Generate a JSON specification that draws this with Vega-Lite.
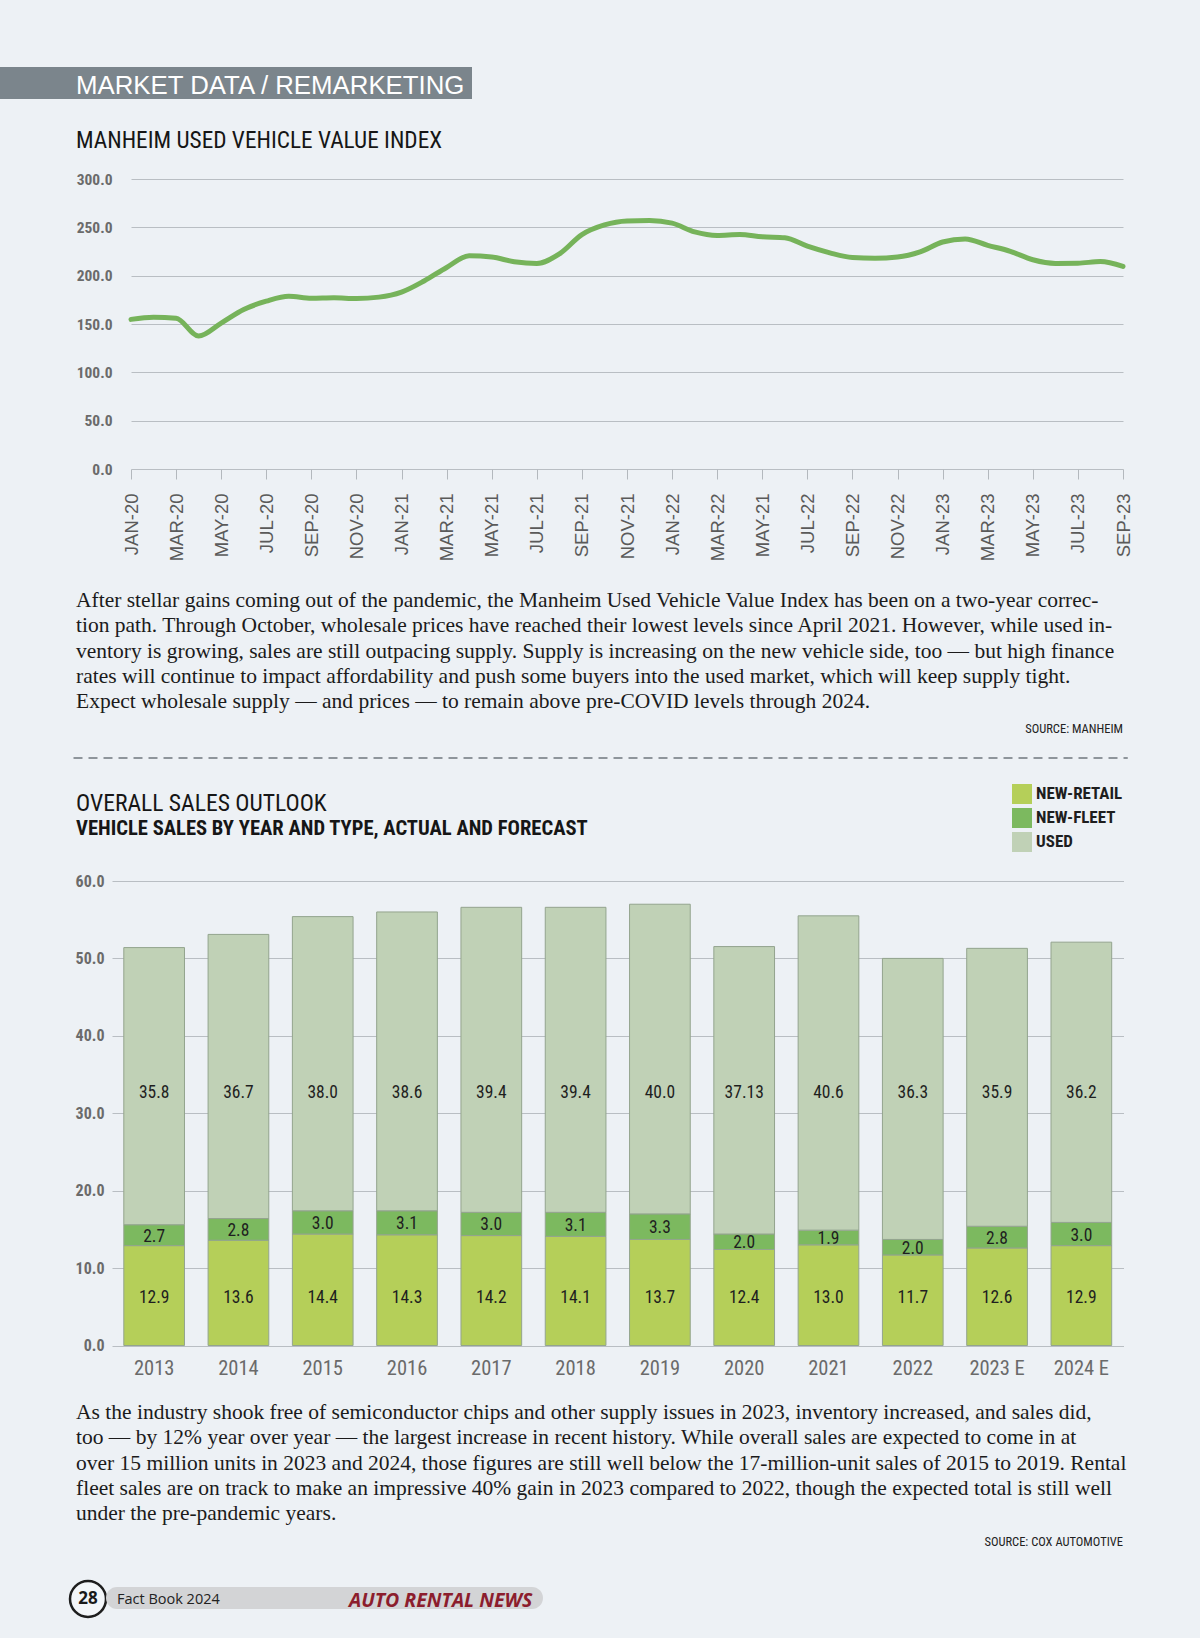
{
  "$schema": "https://vega.github.io/schema/vega-lite/v6.json",
  "background": "#edf1f5",
  "padding": {"left": 0, "top": 67, "right": 72, "bottom": 22},
  "spacing": 0,
  "bounds": "flush",
  "config": {"view": {"stroke": null}},
  "vconcat": [
    {
      "width": 472, "height": 32,
      "view": {"fill": "#7b858c", "stroke": null},
      "data": {"values": []}, "mark": "point",
      "title": {"text": "MARKET DATA / REMARKETING", "orient": "bottom", "anchor": "start", "frame": "group", "dx": 76, "offset": -25, "baseline": "top", "font": "Liberation Sans", "fontSize": 25.8, "fontWeight": "normal", "color": "#ffffff", "limit": 2000}
    },
    {
      "width": 1123, "height": 80,
      "data": {"values": []}, "mark": "point",
      "title": {"text": "MANHEIM USED VEHICLE VALUE INDEX", "orient": "bottom", "anchor": "start", "frame": "group", "dx": 76, "offset": -49, "baseline": "top", "font": "Liberation Sans Narrow, Roboto Condensed, DejaVu Sans Condensed, Liberation Sans", "fontSize": 23.3, "fontWeight": "normal", "color": "#161616", "limit": 2000}
    },
    {
      "spacing": 0, "bounds": "flush",
      "hconcat": [
        {"width": 131, "height": 290, "data": {"values": []}, "mark": "point"},
        {
          "width": 992, "height": 290,
          "data": {"values": [
            {"month": "JAN-20", "index": 154.8}, {"month": "FEB-20", "index": 157.0}, {"month": "MAR-20", "index": 156.0},
            {"month": "APR-20", "index": 137.6}, {"month": "MAY-20", "index": 151.0}, {"month": "JUN-20", "index": 165.0},
            {"month": "JUL-20", "index": 173.6}, {"month": "AUG-20", "index": 178.7}, {"month": "SEP-20", "index": 176.6},
            {"month": "OCT-20", "index": 177.1}, {"month": "NOV-20", "index": 176.4}, {"month": "DEC-20", "index": 177.8},
            {"month": "JAN-21", "index": 183.0}, {"month": "FEB-21", "index": 194.5}, {"month": "MAR-21", "index": 208.5},
            {"month": "APR-21", "index": 220.5}, {"month": "MAY-21", "index": 219.2}, {"month": "JUN-21", "index": 214.5},
            {"month": "JUL-21", "index": 212.7}, {"month": "AUG-21", "index": 222.5}, {"month": "SEP-21", "index": 242.5},
            {"month": "OCT-21", "index": 252.5}, {"month": "NOV-21", "index": 256.6}, {"month": "DEC-21", "index": 257.0},
            {"month": "JAN-22", "index": 254.3}, {"month": "FEB-22", "index": 245.3}, {"month": "MAR-22", "index": 241.6},
            {"month": "APR-22", "index": 242.6}, {"month": "MAY-22", "index": 240.2}, {"month": "JUN-22", "index": 239.2},
            {"month": "JUL-22", "index": 230.5}, {"month": "AUG-22", "index": 223.6}, {"month": "SEP-22", "index": 218.8},
            {"month": "OCT-22", "index": 218.0}, {"month": "NOV-22", "index": 219.3}, {"month": "DEC-22", "index": 224.7},
            {"month": "JAN-23", "index": 234.8}, {"month": "FEB-23", "index": 238.0}, {"month": "MAR-23", "index": 231.4},
            {"month": "APR-23", "index": 225.2}, {"month": "MAY-23", "index": 216.5}, {"month": "JUN-23", "index": 212.7},
            {"month": "JUL-23", "index": 212.9}, {"month": "AUG-23", "index": 214.6}, {"month": "SEP-23", "index": 209.5}
          ]},
          "mark": {"type": "line", "color": "#76b35a", "strokeWidth": 5, "interpolate": "monotone", "strokeCap": "round", "strokeJoin": "round"},
          "encoding": {
            "x": {
              "field": "month", "type": "ordinal", "sort": null,
              "scale": {"type": "point", "padding": 0},
              "axis": {
                "title": null,
                "values": ["JAN-20", "MAR-20", "MAY-20", "JUL-20", "SEP-20", "NOV-20", "JAN-21", "MAR-21", "MAY-21", "JUL-21", "SEP-21", "NOV-21", "JAN-22", "MAR-22", "MAY-22", "JUL-22", "SEP-22", "NOV-22", "JAN-23", "MAR-23", "MAY-23", "JUL-23", "SEP-23"],
                "labelExpr": "datum.value == 'MAY-22' ? 'MAY-21' : datum.value",
                "labelAngle": -90, "labelFont": "Liberation Sans", "labelFontSize": 18.5, "labelColor": "#5a5a5a",
                "tickSize": 10, "tickColor": "#b3b8bd", "tickWidth": 1, "labelPadding": 14,
                "domain": false, "grid": false
              }
            },
            "y": {
              "field": "index", "type": "quantitative",
              "scale": {"domain": [0, 300], "nice": false},
              "axis": {
                "title": null, "values": [0, 50, 100, 150, 200, 250, 300], "format": ".1f",
                "grid": true, "gridColor": "#b9bec3", "gridWidth": 1, "domain": false, "ticks": false, "tickSize": 0,
                "labelPadding": 19, "labelFont": "Liberation Sans Narrow, Roboto Condensed, DejaVu Sans Condensed, Liberation Sans",
                "labelFontSize": 15.5, "labelFontWeight": "bold", "labelColor": "#6b6b6b"
              }
            }
          }
        }
      ]
    },
    {"width": 10, "height": 290, "data": {"values": []}, "mark": "point"},
    {
      "width": 1123, "height": 119,
      "data": {"values": []}, "mark": "point",
      "title": {
        "text": [
          "After stellar gains coming out of the pandemic, the Manheim Used Vehicle Value Index has been on a two-year correc-",
          "tion path. Through October, wholesale prices have reached their lowest levels since April 2021. However, while used in-",
          "ventory is growing, sales are still outpacing supply. Supply is increasing on the new vehicle side, too — but high finance",
          "rates will continue to impact affordability and push some buyers into the used market, which will keep supply tight.",
          "Expect wholesale supply — and prices — to remain above pre-COVID levels through 2024."
        ],
        "orient": "bottom", "anchor": "start", "frame": "group", "dx": 76, "offset": 2, "baseline": "top",
        "font": "Liberation Serif", "fontSize": 21.5, "fontWeight": "normal", "color": "#1b1b1b", "lineHeight": 25.3, "limit": 2000
      }
    },
    {
      "width": 1123, "height": 134,
      "data": {"values": []}, "mark": "point",
      "title": {"text": "SOURCE: MANHEIM", "orient": "bottom", "anchor": "end", "frame": "group", "offset": 1, "baseline": "top", "font": "Liberation Sans Narrow, Roboto Condensed, DejaVu Sans Condensed, Liberation Sans", "fontSize": 12.5, "fontWeight": "normal", "color": "#222222", "limit": 2000}
    },
    {"width": 10, "height": 35, "data": {"values": []}, "mark": "point"},
    {
      "spacing": 0, "bounds": "flush",
      "hconcat": [
        {"width": 73, "height": 1, "data": {"values": []}, "mark": "point"},
        {"width": 1054, "height": 1, "view": {"stroke": "#8e959b", "strokeWidth": 1, "strokeDash": [9, 6], "fill": null}, "data": {"values": []}, "mark": "point"}
      ]
    },
    {
      "width": 1123, "height": 123.5,
      "data": {"values": []}, "mark": "point",
      "title": {
        "text": "OVERALL SALES OUTLOOK",
        "subtitle": "VEHICLE SALES BY YEAR AND TYPE, ACTUAL AND FORECAST",
        "orient": "bottom", "anchor": "start", "frame": "group", "dx": 76, "offset": -89, "baseline": "top",
        "font": "Liberation Sans Narrow, Roboto Condensed, DejaVu Sans Condensed, Liberation Sans", "fontSize": 23.6, "fontWeight": "normal", "color": "#161616",
        "subtitleFont": "Liberation Sans Narrow, Roboto Condensed, DejaVu Sans Condensed, Liberation Sans", "subtitleFontSize": 20.6, "subtitleFontWeight": "bold", "subtitleColor": "#161616", "subtitlePadding": 4,
        "limit": 2000
      }
    },
    {
      "spacing": 0, "bounds": "flush",
      "hconcat": [
        {"width": 112, "height": 464.5, "data": {"values": []}, "mark": "point"},
        {
          "width": 1011.5, "height": 464.5,
          "data": {"values": [
            {"year": "2013", "type": "NEW-RETAIL", "value": 12.9, "label": "12.9"},
            {"year": "2013", "type": "NEW-FLEET", "value": 2.7, "label": "2.7"},
            {"year": "2013", "type": "USED", "value": 35.8, "label": "35.8"},
            {"year": "2014", "type": "NEW-RETAIL", "value": 13.6, "label": "13.6"},
            {"year": "2014", "type": "NEW-FLEET", "value": 2.8, "label": "2.8"},
            {"year": "2014", "type": "USED", "value": 36.7, "label": "36.7"},
            {"year": "2015", "type": "NEW-RETAIL", "value": 14.4, "label": "14.4"},
            {"year": "2015", "type": "NEW-FLEET", "value": 3.0, "label": "3.0"},
            {"year": "2015", "type": "USED", "value": 38.0, "label": "38.0"},
            {"year": "2016", "type": "NEW-RETAIL", "value": 14.3, "label": "14.3"},
            {"year": "2016", "type": "NEW-FLEET", "value": 3.1, "label": "3.1"},
            {"year": "2016", "type": "USED", "value": 38.6, "label": "38.6"},
            {"year": "2017", "type": "NEW-RETAIL", "value": 14.2, "label": "14.2"},
            {"year": "2017", "type": "NEW-FLEET", "value": 3.0, "label": "3.0"},
            {"year": "2017", "type": "USED", "value": 39.4, "label": "39.4"},
            {"year": "2018", "type": "NEW-RETAIL", "value": 14.1, "label": "14.1"},
            {"year": "2018", "type": "NEW-FLEET", "value": 3.1, "label": "3.1"},
            {"year": "2018", "type": "USED", "value": 39.4, "label": "39.4"},
            {"year": "2019", "type": "NEW-RETAIL", "value": 13.7, "label": "13.7"},
            {"year": "2019", "type": "NEW-FLEET", "value": 3.3, "label": "3.3"},
            {"year": "2019", "type": "USED", "value": 40.0, "label": "40.0"},
            {"year": "2020", "type": "NEW-RETAIL", "value": 12.4, "label": "12.4"},
            {"year": "2020", "type": "NEW-FLEET", "value": 2.0, "label": "2.0"},
            {"year": "2020", "type": "USED", "value": 37.13, "label": "37.13"},
            {"year": "2021", "type": "NEW-RETAIL", "value": 13.0, "label": "13.0"},
            {"year": "2021", "type": "NEW-FLEET", "value": 1.9, "label": "1.9"},
            {"year": "2021", "type": "USED", "value": 40.6, "label": "40.6"},
            {"year": "2022", "type": "NEW-RETAIL", "value": 11.7, "label": "11.7"},
            {"year": "2022", "type": "NEW-FLEET", "value": 2.0, "label": "2.0"},
            {"year": "2022", "type": "USED", "value": 36.3, "label": "36.3"},
            {"year": "2023 E", "type": "NEW-RETAIL", "value": 12.6, "label": "12.6"},
            {"year": "2023 E", "type": "NEW-FLEET", "value": 2.8, "label": "2.8"},
            {"year": "2023 E", "type": "USED", "value": 35.9, "label": "35.9"},
            {"year": "2024 E", "type": "NEW-RETAIL", "value": 12.9, "label": "12.9"},
            {"year": "2024 E", "type": "NEW-FLEET", "value": 3.0, "label": "3.0"},
            {"year": "2024 E", "type": "USED", "value": 36.2, "label": "36.2"}
          ]},
          "transform": [{"stack": "value", "groupby": ["year"], "as": ["lo", "hi"]}],
          "encoding": {
            "x": {
              "field": "year", "type": "nominal",
              "scale": {"domain": ["2013", "2014", "2015", "2016", "2017", "2018", "2019", "2020", "2021", "2022", "2023 E", "2024 E"], "paddingInner": 0.28, "paddingOuter": 0.14},
              "axis": {"title": null, "labelAngle": 0, "domain": false, "ticks": false, "tickSize": 0, "labelPadding": 13,
                       "labelFont": "Liberation Sans Narrow, Roboto Condensed, DejaVu Sans Condensed, Liberation Sans", "labelFontSize": 20.5, "labelColor": "#6a6a6a"}
            }
          },
          "layer": [
            {
              "mark": {"type": "bar", "stroke": "#93a48e", "strokeWidth": 1},
              "encoding": {
                "y": {
                  "field": "lo", "type": "quantitative",
                  "scale": {"domain": [0, 60], "nice": false},
                  "axis": {"title": null, "values": [0, 10, 20, 30, 40, 50, 60], "format": ".1f", "grid": true, "gridColor": "#b9bec3", "domain": false, "ticks": false, "tickSize": 0, "labelPadding": 8,
                           "labelFont": "Liberation Sans Narrow, Roboto Condensed, DejaVu Sans Condensed, Liberation Sans", "labelFontSize": 16, "labelFontWeight": "bold", "labelColor": "#6b6b6b"}
                },
                "y2": {"field": "hi"},
                "color": {
                  "field": "type", "type": "nominal",
                  "scale": {"domain": ["NEW-RETAIL", "NEW-FLEET", "USED"], "range": ["#b5cf59", "#7cb95f", "#c0d1b6"]},
                  "legend": {"title": null, "orient": "none", "legendX": 1012, "legendY": 717, "direction": "vertical",
                             "symbolType": "square", "symbolSize": 400, "symbolStrokeWidth": 0, "symbolOpacity": 1,
                             "labelFont": "Liberation Sans Narrow, Roboto Condensed, DejaVu Sans Condensed, Liberation Sans", "labelFontSize": 17, "labelFontWeight": "bold", "labelColor": "#1e1e1e",
                             "rowPadding": 4, "labelOffset": 4}
                }
              }
            },
            {
              "transform": [{"filter": "datum.type === 'USED'"}],
              "mark": {"type": "text", "font": "Liberation Sans Narrow, Roboto Condensed, DejaVu Sans Condensed, Liberation Sans", "fontSize": 17.5, "color": "#1f1f1f", "baseline": "middle"},
              "encoding": {"y": {"datum": 32.6, "type": "quantitative"}, "text": {"field": "label"}}
            },
            {
              "transform": [{"filter": "datum.type === 'NEW-RETAIL'"}],
              "mark": {"type": "text", "font": "Liberation Sans Narrow, Roboto Condensed, DejaVu Sans Condensed, Liberation Sans", "fontSize": 17.5, "color": "#1f1f1f", "baseline": "middle"},
              "encoding": {"y": {"datum": 6.2, "type": "quantitative"}, "text": {"field": "label"}}
            },
            {
              "transform": [
                {"filter": "datum.type === 'NEW-FLEET'"},
                {"fold": ["lo", "hi"], "as": ["edge", "pos"]},
                {"aggregate": [{"op": "mean", "field": "pos", "as": "mid"}], "groupby": ["year", "label"]}
              ],
              "mark": {"type": "text", "font": "Liberation Sans Narrow, Roboto Condensed, DejaVu Sans Condensed, Liberation Sans", "fontSize": 17.5, "color": "#1f1f1f", "baseline": "middle", "dy": 1.5},
              "encoding": {"y": {"field": "mid", "type": "quantitative"}, "text": {"field": "label"}}
            }
          ]
        }
      ]
    },
    {"width": 10, "height": 464.5, "data": {"values": []}, "mark": "point"},
    {
      "width": 1123, "height": 54,
      "data": {"values": []}, "mark": "point",
      "title": {
        "text": [
          "As the industry shook free of semiconductor chips and other supply issues in 2023, inventory increased, and sales did,",
          "too — by 12% year over year — the largest increase in recent history. While overall sales are expected to come in at",
          "over 15 million units in 2023 and 2024, those figures are still well below the 17-million-unit sales of 2015 to 2019. Rental",
          "fleet sales are on track to make an impressive 40% gain in 2023 compared to 2022, though the expected total is still well",
          "under the pre-pandemic years."
        ],
        "orient": "bottom", "anchor": "start", "frame": "group", "dx": 76, "offset": 2, "baseline": "top",
        "font": "Liberation Serif", "fontSize": 21.5, "fontWeight": "normal", "color": "#1b1b1b", "lineHeight": 25.3, "limit": 2000
      }
    },
    {
      "width": 1123, "height": 135,
      "data": {"values": []}, "mark": "point",
      "title": {"text": "SOURCE: COX AUTOMOTIVE", "orient": "bottom", "anchor": "end", "frame": "group", "offset": 1, "baseline": "top", "font": "Liberation Sans Narrow, Roboto Condensed, DejaVu Sans Condensed, Liberation Sans", "fontSize": 12.5, "fontWeight": "normal", "color": "#222222", "limit": 2000}
    },
    {"width": 10, "height": 46, "data": {"values": []}, "mark": "point"},
    {
      "spacing": 0, "bounds": "flush",
      "hconcat": [
        {"width": 70, "height": 36, "data": {"values": []}, "mark": "point"},
        {
          "width": 36, "height": 36,
          "view": {"cornerRadius": 18, "stroke": "#1e1e1e", "strokeWidth": 2.5, "fill": "#f3f6f9"},
          "data": {"values": []}, "mark": "point",
          "title": {"text": "28", "orient": "bottom", "anchor": "middle", "frame": "group", "offset": -26, "baseline": "top", "font": "Open Sans", "fontSize": 17, "fontWeight": "bold", "color": "#1a1a1a"}
        },
        {
          "spacing": 0, "bounds": "flush",
          "vconcat": [
            {"width": 1, "height": 6, "data": {"values": []}, "mark": "point"},
            {
              "width": 437, "height": 22,
              "view": {"fill": "#d3d4d6", "stroke": null, "cornerRadius": 11},
              "data": {"values": []}, "mark": "point",
              "title": {"text": "AUTO RENTAL NEWS", "orient": "bottom", "anchor": "start", "frame": "group", "dx": 243, "offset": -17.5, "baseline": "top", "font": "Open Sans", "fontSize": 19.5, "fontWeight": "bold", "fontStyle": "italic", "color": "#8c1d2d"}
            },
            {
              "width": 1, "height": 1,
              "data": {"values": []}, "mark": "point",
              "title": {"text": "Fact Book 2024", "orient": "bottom", "anchor": "start", "frame": "group", "dx": 11, "offset": -17, "baseline": "top", "font": "Open Sans", "fontSize": 14.5, "fontWeight": "normal", "color": "#222222"}
            }
          ]
        }
      ]
    }
  ]
}
